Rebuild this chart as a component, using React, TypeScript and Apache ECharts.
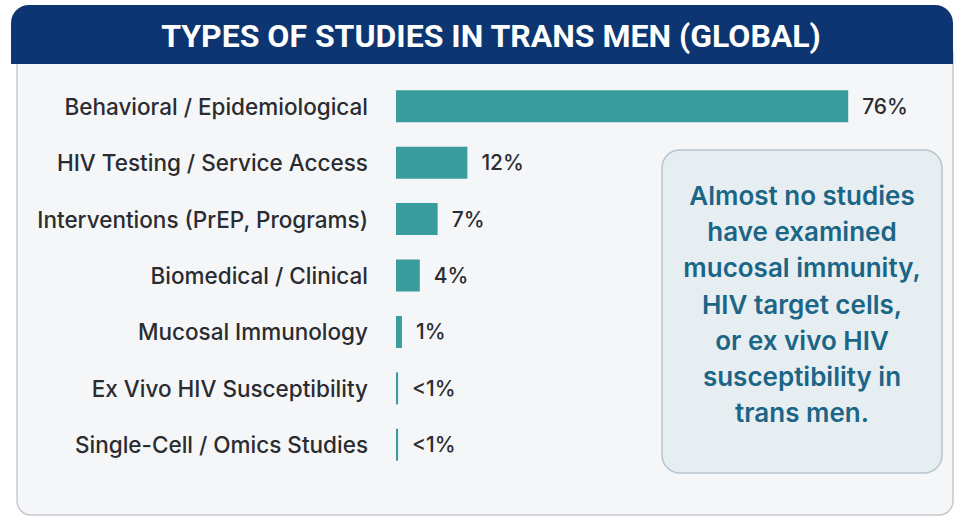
import React, { useEffect, useRef } from "react";
import * as echarts from "echarts";

const title = "TYPES OF STUDIES IN TRANS MEN (GLOBAL)";
const categories = [
  "Behavioral / Epidemiological",
  "HIV Testing / Service Access",
  "Interventions (PrEP, Programs)",
  "Biomedical / Clinical",
  "Mucosal Immunology",
  "Ex Vivo HIV Susceptibility",
  "Single-Cell / Omics Studies",
];
const values = [76, 12, 7, 4, 1, 0.35, 0.35];
const valueLabels = ["76%", "12%", "7%", "4%", "1%", "<1%", "<1%"];
const calloutLines = [
  "Almost no studies",
  "have examined",
  "mucosal immunity,",
  "HIV target cells,",
  "or ex vivo HIV",
  "susceptibility in",
  "trans men.",
];

export default function App() {
  const ref = useRef<HTMLDivElement>(null);
  useEffect(() => {
    if (!ref.current) return;
    const chart = echarts.init(ref.current, null, { renderer: "svg" });
    chart.setOption({
      animation: false,
      backgroundColor: "#ffffff",
      grid: { left: 396, top: 78, width: 476, height: 395, containLabel: false },
      xAxis: {
        type: "value",
        min: 0,
        max: 80,
        show: false,
      },
      yAxis: {
        type: "category",
        data: categories,
        inverse: true,
        axisLine: { show: false },
        axisTick: { show: false },
        splitLine: { show: false },
        axisLabel: {
          margin: 28,
          fontSize: 22.5,
          fontFamily: "Inter",
          fontWeight: 500,
          color: "#2a2c30",
        },
      },
      series: [
        {
          type: "bar",
          data: values,
          barWidth: 32,
          itemStyle: { color: "#3b9c9d" },
          label: {
            show: true,
            position: "right",
            distance: 14,
            fontSize: 21,
            fontFamily: "Inter",
            fontWeight: 500,
            color: "#2a2c30",
            formatter: (p: any) => valueLabels[p.dataIndex],
          },
          z: 5,
        },
      ],
      graphic: [
        {
          type: "rect",
          z: 0,
          shape: { x: 17, y: 40, width: 936, height: 475, r: 14 },
          style: { fill: "#f5f6f8", stroke: "#c5c9ce", lineWidth: 1.5 },
        },
        {
          type: "rect",
          z: 1,
          shape: { x: 11, y: 5, width: 942, height: 59, r: [18, 18, 0, 0] },
          style: { fill: "#0c3571" },
        },
        {
          type: "text",
          z: 2,
          x: 491,
          y: 36,
          style: {
            text: title,
            font: "bold 32px Roboto, sans-serif",
            fill: "#ffffff",
            align: "center",
            verticalAlign: "middle",
          },
        },
        {
          type: "rect",
          z: 1,
          shape: { x: 662, y: 150, width: 280, height: 323, r: 18 },
          style: { fill: "#e7eef2", stroke: "#b6c5cd", lineWidth: 1.5 },
        },
        {
          type: "text",
          z: 2,
          x: 802,
          y: 304,
          style: {
            text: calloutLines.join("\n"),
            font: "600 26px Inter, sans-serif",
            lineHeight: 36.3,
            fill: "#1b6586",
            align: "center",
            verticalAlign: "middle",
          },
        },
      ],
    });
    return () => chart.dispose();
  }, []);
  return <div ref={ref} style={{ width: 959, height: 519, position: "absolute", left: 0, top: 0 }} />;
}
